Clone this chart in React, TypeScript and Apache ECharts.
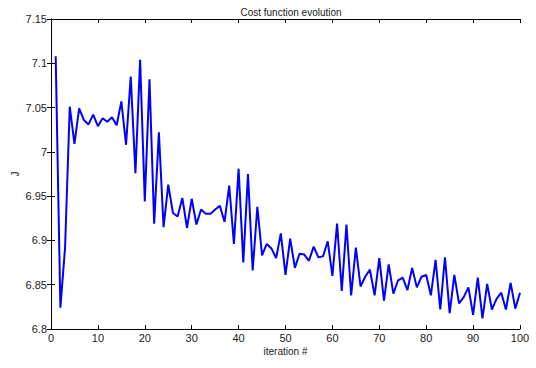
import React, { useEffect, useRef } from "react";
import * as echarts from "echarts";

const iterations: number[] = Array.from({ length: 100 }, (_, i) => i + 1);
const costValues: number[] = [
  7.108, 6.824, 6.892, 7.051, 7.009, 7.049, 7.036, 7.031, 7.042, 7.029,
  7.038, 7.034, 7.039, 7.030, 7.057, 7.008, 7.085, 6.976, 7.104, 6.944,
  7.082, 6.919, 7.022, 6.915, 6.963, 6.931, 6.927, 6.948, 6.914, 6.947,
  6.918, 6.935, 6.930, 6.930, 6.935, 6.939, 6.921, 6.962, 6.896, 6.981,
  6.875, 6.975, 6.866, 6.938, 6.883, 6.896, 6.891, 6.880, 6.908, 6.861,
  6.902, 6.869, 6.885, 6.884, 6.877, 6.893, 6.881, 6.882, 6.899, 6.860,
  6.919, 6.843, 6.918, 6.838, 6.892, 6.848, 6.859, 6.867, 6.838, 6.880,
  6.832, 6.873, 6.840, 6.855, 6.858, 6.844, 6.869, 6.847, 6.859, 6.861,
  6.838, 6.878, 6.822, 6.881, 6.818, 6.861, 6.829, 6.836, 6.847, 6.816,
  6.858, 6.812, 6.851, 6.822, 6.834, 6.841, 6.822, 6.852, 6.823, 6.841,
];
const yTickLabels: string[] = ["6.8", "6.85", "6.9", "6.95", "7", "7.05", "7.1", "7.15"];

const FONT = "'Liberation Sans', Arial, Helvetica, sans-serif";

export default function App() {
  const ref = useRef<HTMLDivElement>(null);
  useEffect(() => {
    if (!ref.current) return;
    const chart = echarts.init(ref.current, null, { renderer: "svg" });
    const axisLine = { show: true, lineStyle: { color: "#000", width: 1 } };
    const tick = { show: true, inside: true, length: 4, lineStyle: { color: "#000" } };
    const label = { color: "#1a1a1a", fontFamily: FONT, fontSize: 11 };
    chart.setOption({
      animation: false,
      backgroundColor: "#fff",
      title: {
        text: "Cost function evolution",
        left: 286,
        top: 2,
        textAlign: "center",
        textStyle: { fontFamily: FONT, fontSize: 10, fontWeight: "normal", color: "#1a1a1a" },
      },
      grid: { left: 51, top: 19, right: 16, bottom: 39, containLabel: false },
      xAxis: [
        {
          type: "value",
          min: 0,
          max: 100,
          interval: 10,
          position: "bottom",
          name: "iteration #",
          nameLocation: "middle",
          nameGap: 17,
          nameMoveOverlap: false,
          nameTextStyle: { fontFamily: FONT, fontSize: 10, color: "#1a1a1a" },
          axisLine,
          axisTick: tick,
          axisLabel: { ...label, margin: 3 },
          splitLine: { show: false },
        },
        {
          type: "value",
          min: 0,
          max: 100,
          interval: 10,
          position: "top",
          axisLine,
          axisTick: tick,
          axisLabel: { show: false },
          splitLine: { show: false },
        },
      ],
      yAxis: [
        {
          type: "value",
          min: 6.8,
          max: 7.15,
          interval: 0.05,
          position: "left",
          name: "J",
          nameLocation: "middle",
          nameGap: 31,
          nameMoveOverlap: false,
          nameRotate: 90,
          nameTextStyle: { fontFamily: FONT, fontSize: 10, color: "#1a1a1a" },
          axisLine,
          axisTick: tick,
          axisLabel: {
            ...label,
            margin: 4,
            formatter: (v: number) => {
              const idx = Math.round((v - 6.8) / 0.05);
              return yTickLabels[idx] ?? "";
            },
          },
          splitLine: { show: false },
        },
        {
          type: "value",
          min: 6.8,
          max: 7.15,
          interval: 0.05,
          position: "right",
          axisLine,
          axisTick: tick,
          axisLabel: { show: false },
          splitLine: { show: false },
        },
      ],
      series: [
        {
          type: "line",
          data: iterations.map((it, i) => [it, costValues[i]]),
          xAxisIndex: 0,
          yAxisIndex: 0,
          showSymbol: false,
          symbol: "none",
          lineStyle: { color: "#0000ff", width: 2 },
        },
      ],
    });
    return () => chart.dispose();
  }, []);
  return <div ref={ref} style={{ width: 536, height: 368, position: "absolute", left: 0, top: 0 }} />;
}
